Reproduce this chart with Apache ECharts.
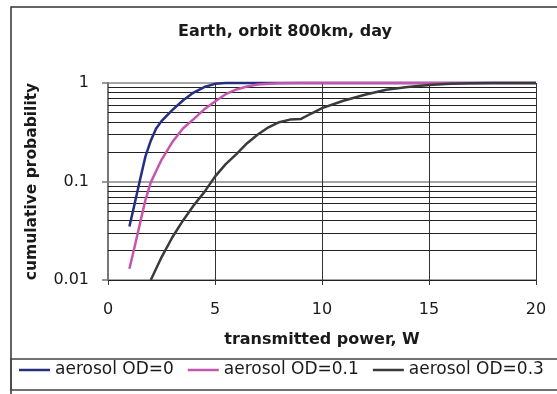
<!DOCTYPE html>
<html>
<head>
<meta charset="utf-8">
<script src="https://cdn.jsdelivr.net/npm/echarts@6/dist/echarts.min.js"></script>
<style>
html,body{margin:0;padding:0;background:#fff;}
#c{width:557px;height:394px;}
</style>
</head>
<body>
<div id="c"></div>
<script>
const titleText = 'Earth, orbit 800km, day';
const xName = 'transmitted power, W';
const yName = 'cumulative probability';
const seriesNames = ['aerosol OD=0', 'aerosol OD=0.1', 'aerosol OD=0.3'];

const od0X = [1, 1.25, 1.5, 1.75, 2, 2.25, 2.5, 3, 3.5, 4, 4.5, 5, 5.5, 6, 8, 10, 15, 20];
const od0Y = [0.035, 0.06, 0.105, 0.18, 0.26, 0.345, 0.41, 0.53, 0.665, 0.8, 0.91, 0.98, 0.998, 1, 1, 1, 1, 1];

const od01X = [1, 1.25, 1.5, 1.75, 2, 2.25, 2.5, 3, 3.5, 4, 4.5, 5, 5.5, 6, 6.5, 7, 7.5, 8, 9, 10, 15, 20];
const od01Y = [0.013, 0.022, 0.038, 0.065, 0.098, 0.128, 0.166, 0.25, 0.345, 0.43, 0.54, 0.65, 0.77, 0.86, 0.92, 0.965, 0.985, 0.995, 1, 1, 1, 1];

const od03X = [2, 2.5, 3, 3.5, 4, 4.5, 5, 5.5, 6, 6.5, 7, 7.5, 8, 8.5, 9, 9.5, 10, 11, 12, 13, 14, 15, 16, 17, 18, 19, 20];
const od03Y = [0.01, 0.017, 0.027, 0.04, 0.057, 0.078, 0.112, 0.15, 0.19, 0.245, 0.3, 0.355, 0.4, 0.425, 0.43, 0.49, 0.555, 0.66, 0.76, 0.855, 0.91, 0.955, 0.98, 0.993, 1, 1, 1];

const minorGridValues = [0.02, 0.03, 0.04, 0.05, 0.06, 0.07, 0.08, 0.09, 0.2, 0.3, 0.4, 0.5, 0.6, 0.7, 0.8, 0.9];

const colors = ['#262e80', '#c655ae', '#3a3a3a'];
const FONT = 'DejaVu Sans';

function pairs(xs, ys) { return xs.map((x, i) => [x, ys[i]]); }

const chart = echarts.init(document.getElementById('c'), null, {renderer: 'canvas'});
chart.setOption({
  backgroundColor: '#fff',
  animation: false,
  title: {
    text: titleText,
    left: 178, top: 24,
    padding: 0,
    textStyle: {fontFamily: FONT, fontSize: 16, fontWeight: 'bold', color: '#1a1a1a'}
  },
  graphic: [
    {type: 'rect', shape: {x: 11, y: 7, width: 700, height: 500}, style: {fill: 'none', stroke: '#333', lineWidth: 1.5}, silent: true},
    {type: 'rect', shape: {x: 11, y: 359, width: 700, height: 31}, style: {fill: 'none', stroke: '#444', lineWidth: 1.5}, silent: true}
  ],
  legend: {
    data: seriesNames,
    left: 19, top: 361,
    padding: 0,
    itemGap: 14,
    itemWidth: 31,
    itemHeight: 2.5,
    icon: 'rect',
    textStyle: {fontFamily: FONT, fontSize: 17, color: '#1a1a1a', lineHeight: 18}
  },
  grid: {left: 108, right: 21, top: 83, bottom: 114, containLabel: false},
  xAxis: {
    type: 'value', min: 0, max: 20, interval: 5,
    name: xName, nameLocation: 'middle', nameGap: 52,
    nameTextStyle: {fontFamily: FONT, fontSize: 16, fontWeight: 'bold', color: '#1a1a1a'},
    axisLine: {show: true, lineStyle: {color: '#222', width: 1}},
    axisTick: {show: true, length: 5, lineStyle: {color: '#333'}},
    axisLabel: {margin: 22, fontFamily: FONT, fontSize: 16, color: '#1a1a1a'},
    splitLine: {show: true, lineStyle: {color: '#333', width: 1}}
  },
  yAxis: {
    type: 'log', logBase: 10, min: 0.01, max: 1,
    name: yName, nameLocation: 'middle', nameGap: 68,
    nameTextStyle: {fontFamily: FONT, fontSize: 15.5, fontWeight: 'bold', color: '#1a1a1a'},
    axisLine: {show: true, lineStyle: {color: '#777', width: 2}},
    axisTick: {show: true, length: 6, lineStyle: {color: '#777', width: 1.5}},
    axisLabel: {margin: 19, fontFamily: FONT, fontSize: 16, color: '#1a1a1a'},
    splitLine: {show: true, lineStyle: {color: '#888', width: 1.5}}
  },
  series: [
    {
      name: 'minor', type: 'line', data: [], silent: true, z: 1,
      markLine: {
        silent: true, symbol: 'none', z: 1, animation: false,
        label: {show: false},
        lineStyle: {color: '#222', width: 1, type: 'solid'},
        data: minorGridValues.map(v => ({yAxis: v}))
      }
    },
    {name: seriesNames[0], type: 'line', data: pairs(od0X, od0Y), showSymbol: false, symbol: 'none', clip: false, color: colors[0], lineStyle: {color: colors[0], width: 2.5}},
    {name: seriesNames[1], type: 'line', data: pairs(od01X, od01Y), showSymbol: false, symbol: 'none', clip: false, color: colors[1], lineStyle: {color: colors[1], width: 2.5}},
    {name: seriesNames[2], type: 'line', data: pairs(od03X, od03Y), showSymbol: false, symbol: 'none', clip: false, color: colors[2], lineStyle: {color: colors[2], width: 2.5}}
  ]
});
</script>
</body>
</html>
